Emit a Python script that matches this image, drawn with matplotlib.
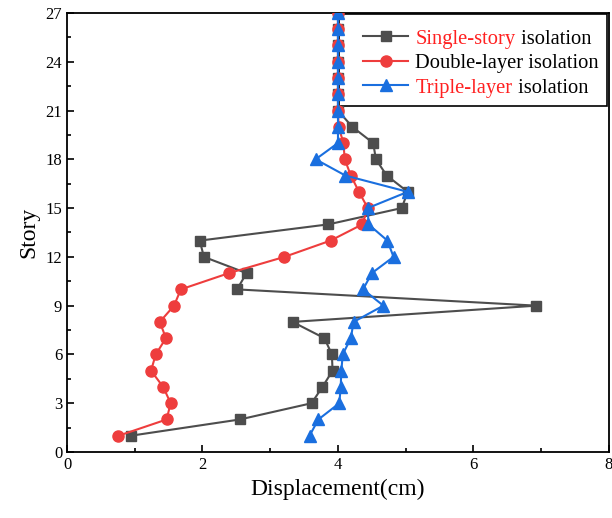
import matplotlib
matplotlib.use('Agg')
from matplotlib import pyplot as plt
from matplotlib.ticker import MultipleLocator
from matplotlib.patches import Rectangle

# story number and displacement (cm) for each isolation scheme
story = list(range(1, 28))
single_story = [0.94, 2.55, 3.61, 3.77, 3.92, 3.91, 3.80, 3.33, 6.93, 2.51,
                2.65, 2.02, 1.96, 3.86, 4.94, 5.03, 4.72, 4.56, 4.52, 4.21,
                4.00, 4.00, 4.00, 4.00, 4.00, 4.00, 4.00]
double_layer = [0.76, 1.47, 1.53, 1.42, 1.24, 1.31, 1.46, 1.37, 1.58, 1.68,
                2.39, 3.21, 3.89, 4.36, 4.44, 4.31, 4.19, 4.10, 4.08, 4.01,
                4.00, 4.00, 4.00, 4.00, 4.00, 4.00, 4.00]
triple_layer = [3.58, 3.71, 4.02, 4.04, 4.05, 4.07, 4.19, 4.23, 4.67, 4.37,
                4.50, 4.82, 4.73, 4.45, 4.44, 5.03, 4.11, 3.67, 4.00, 4.00,
                4.00, 4.00, 4.00, 4.00, 4.00, 4.00, 4.00]

plt.rcParams['font.family'] = ['Liberation Serif', 'DejaVu Serif']

fig = plt.figure(figsize=(6.12, 5.18), dpi=100)
ax = fig.add_axes([0.1095, 0.1274, 0.8855, 0.8476])

ax.plot(single_story, story, c='#4d4d4d', lw=1.5, marker='s', ms=7, label='Single-story', zorder=3)
ax.plot(double_layer, story, c='#ee3d3d', lw=1.5, marker='o', ms=8, label='Double-layer isolation', zorder=3)
ax.plot(triple_layer, story, c='#1a6fdf', lw=1.5, marker='^', ms=8, label='Triple-layer', zorder=3)

ax.set_xlim(0, 8)
ax.set_ylim(0, 27)
ax.xaxis.set_major_locator(MultipleLocator(2))
ax.xaxis.set_minor_locator(MultipleLocator(1))
ax.yaxis.set_major_locator(MultipleLocator(3))
ax.yaxis.set_minor_locator(MultipleLocator(1.5))
ax.tick_params(which='both', direction='in', labelsize=12, width=1.2)
ax.tick_params(which='major', length=5)
ax.tick_params(which='minor', length=3)
for sp in ax.spines.values():
    sp.set_linewidth(1.3)

ax.set_xlabel('Displacement(cm)', fontsize=17)
ax.set_ylabel('Story', fontsize=17)

fs = 14.8
leg = ax.legend(loc='upper right', bbox_to_anchor=(1.0046, 0.991), fontsize=fs,
                frameon=False, borderaxespad=0, handlelength=2.2, labelspacing=0.25,
                borderpad=0.6, handletextpad=0.35)
texts = leg.get_texts()
texts[0].set_color('#ff2020')
texts[2].set_color('#ff2020')
fig.canvas.draw()
for t in (texts[0], texts[2]):
    ax.annotate(' isolation', xy=(1, 0), xycoords=t, ha='left', va='bottom',
                fontsize=fs, color='k', zorder=10)

# legend box sits under the curves, its left edge hidden by the 4 cm column
bb = leg.get_window_extent()
inv = ax.transAxes.inverted()
(x0, y0) = inv.transform((bb.x0 - 12, bb.y0 + 4))
(x1, y1) = inv.transform((ax.bbox.x1 - 2, ax.bbox.y1 - 1))
ax.add_patch(Rectangle((x0, y0), x1 - x0, y1 - y0, transform=ax.transAxes,
                       facecolor='white', edgecolor='k', lw=1.2, zorder=1))

fig.savefig('out.png', dpi=100)
